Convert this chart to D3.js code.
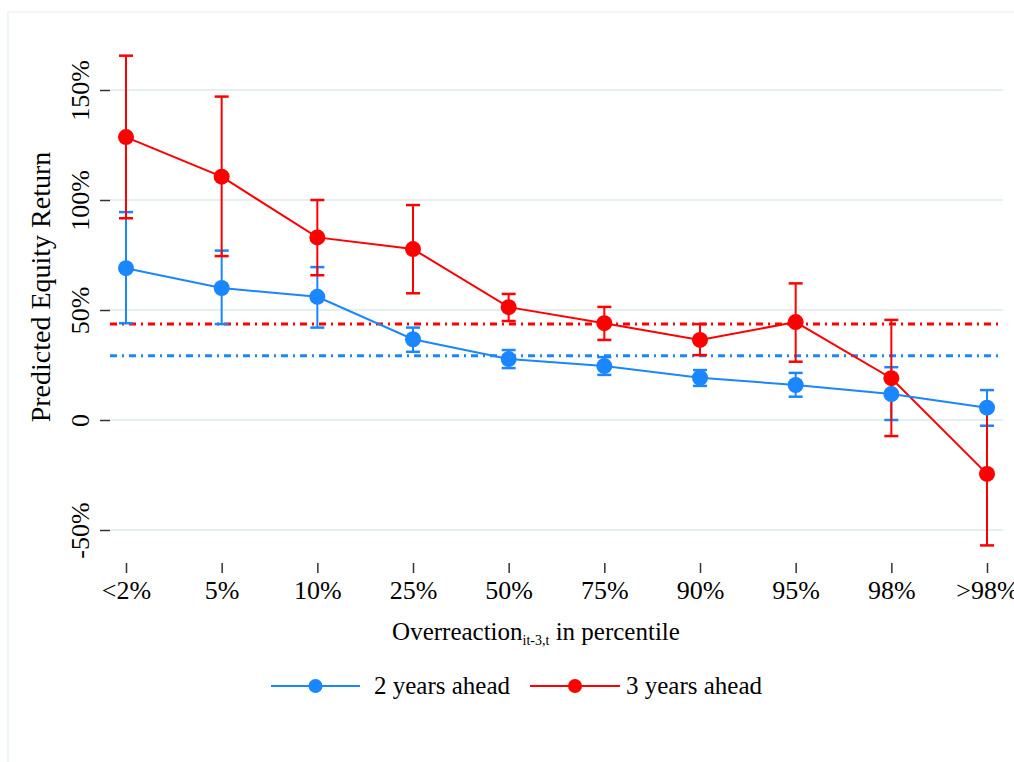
<!DOCTYPE html>
<html>
<head>
<meta charset="utf-8">
<script src="https://cdn.jsdelivr.net/npm/d3@7"></script>
<style>
  body { margin: 0; background: #fff; }
  text { font-family: 'Liberation Serif', 'Times New Roman', serif; fill: #000; }
</style>
</head>
<body>
<div id="chart"></div>
<script>
'use strict'

const categories = ['<2%', '5%', '10%', '25%', '50%', '75%', '90%', '95%', '98%', '>98%']
const yTicks = [-50, 0, 50, 100, 150]

// 2 years ahead
const twoYear = [69, 60, 56, 36.7, 27.7, 24.5, 19.2, 15.9, 11.8, 5.6]
const twoYearLow = [44, 43.6, 42, 31, 23.6, 20.5, 15.5, 10.6, 0, -2.6]
const twoYearHigh = [94.5, 77, 69.5, 42, 31.8, 28.6, 22.7, 21.4, 24, 13.6]
const twoYearMean = 29.2

// 3 years ahead
const threeYear = [128.6, 110.6, 83, 77.7, 51.3, 44, 36.4, 44.5, 19, -24.5]
const threeYearLow = [91.7, 74.5, 65.8, 57.6, 45, 36.4, 29.5, 26.5, -7.3, -57]
const threeYearHigh = [165.6, 147, 100, 97.7, 57.3, 51.4, 43.6, 62.1, 45.5, 5.5]
const threeYearMean = 43.6

const series = [
  { label: '2 years ahead', color: '#1a86ff', values: twoYear, low: twoYearLow, high: twoYearHigh, mean: twoYearMean },
  { label: '3 years ahead', color: '#ff0000', values: threeYear, low: threeYearLow, high: threeYearHigh, mean: threeYearMean }
]

const width = 1014
const height = 762
const svg = d3.select('#chart')
  .append('svg')
  .attr('width', width)
  .attr('height', height)

// outer frame
svg.append('rect')
  .attr('x', 8)
  .attr('y', 12)
  .attr('width', 1010)
  .attr('height', 760)
  .attr('fill', 'none')
  .attr('stroke', '#eef2f2')
  .attr('stroke-width', 1.5)

const x = d3.scalePoint().domain(categories).range([126, 987])
const y = d3.scaleLinear().domain([-50, 150]).range([530, 90])
const plotLeft = 110
const plotRight = 1003

// gridlines
svg.append('g')
  .selectAll('line')
  .data(yTicks)
  .enter()
  .append('line')
  .attr('x1', plotLeft)
  .attr('x2', plotRight)
  .attr('y1', d => y(d))
  .attr('y2', d => y(d))
  .attr('stroke', '#e6eeef')
  .attr('stroke-width', 2)

// y axis
const fmt = d => d === 0 ? '0' : d + '%'
const yAxis = svg.append('g')
  .attr('transform', `translate(${plotLeft},0)`)
  .call(d3.axisLeft(y).tickValues(yTicks).tickSize(10).tickPadding(0).tickFormat(fmt))
yAxis.select('.domain').remove()
yAxis.selectAll('.tick line').attr('stroke', '#333').attr('stroke-width', 1.5)
yAxis.selectAll('.tick text')
  .attr('font-size', 26)
  .attr('font-family', "'Liberation Serif', serif")
  .attr('text-anchor', 'middle')
  .attr('x', 0)
  .attr('dy', 0)
  .attr('transform', 'translate(-21,0) rotate(-90)')

// x axis
const xAxis = svg.append('g')
  .attr('transform', 'translate(0,563)')
  .call(d3.axisBottom(x).tickSize(10).tickPadding(0))
xAxis.select('.domain').remove()
xAxis.selectAll('.tick line').attr('stroke', '#333').attr('stroke-width', 1.5)
xAxis.selectAll('.tick text')
  .attr('font-size', 26)
  .attr('font-family', "'Liberation Serif', serif")
  .attr('y', 36)
  .attr('dy', 0)

// axis titles
svg.append('text')
  .attr('transform', `translate(50,${y(50) - 23}) rotate(-90)`)
  .attr('text-anchor', 'middle')
  .attr('font-size', 28)
  .text('Predicted Equity Return')

const xTitle = svg.append('text')
  .attr('x', 536)
  .attr('y', 640)
  .attr('text-anchor', 'middle')
  .attr('font-size', 25)
xTitle.append('tspan').text('Overreaction')
xTitle.append('tspan').attr('font-size', 14).attr('dy', 5).text('it-3,t')
xTitle.append('tspan').attr('dy', -5).text(' in percentile')

// reference (mean) lines
svg.append('g')
  .selectAll('line')
  .data(series)
  .enter()
  .append('line')
  .attr('x1', plotLeft)
  .attr('x2', plotRight)
  .attr('y1', d => y(d.mean))
  .attr('y2', d => y(d.mean))
  .attr('stroke', d => d.color)
  .attr('stroke-width', 3)
  .attr('stroke-dasharray', '7,5,2,5')

// series: error bars
const line = d3.line()
  .x((d, i) => x(categories[i]))
  .y(d => y(d))
const capHalf = 7

const groups = svg.selectAll('g.series')
  .data(series)
  .enter()
  .append('g')
  .attr('class', 'series')

groups.each(function (s) {
  const g = d3.select(this)
  const bars = categories.map((c, i) => ({ c, low: s.low[i], high: s.high[i] }))
  g.selectAll('line.ci')
    .data(bars)
    .enter()
    .append('line')
    .attr('class', 'ci')
    .attr('x1', d => x(d.c))
    .attr('x2', d => x(d.c))
    .attr('y1', d => y(d.low))
    .attr('y2', d => y(d.high))
    .attr('stroke', s.color)
    .attr('stroke-width', 2)
  g.selectAll('line.cap-low')
    .data(bars)
    .enter()
    .append('line')
    .attr('x1', d => x(d.c) - capHalf)
    .attr('x2', d => x(d.c) + capHalf)
    .attr('y1', d => y(d.low))
    .attr('y2', d => y(d.low))
    .attr('stroke', s.color)
    .attr('stroke-width', 2.5)
  g.selectAll('line.cap-high')
    .data(bars)
    .enter()
    .append('line')
    .attr('x1', d => x(d.c) - capHalf)
    .attr('x2', d => x(d.c) + capHalf)
    .attr('y1', d => y(d.high))
    .attr('y2', d => y(d.high))
    .attr('stroke', s.color)
    .attr('stroke-width', 2.5)
})

// series lines and markers (3 years first so 2 years sits on top)
const ordered = [series[1], series[0]]
ordered.forEach(s => {
  svg.append('path')
    .datum(s.values)
    .attr('d', line)
    .attr('fill', 'none')
    .attr('stroke', s.color)
    .attr('stroke-width', 2)
  svg.append('g')
    .selectAll('circle')
    .data(s.values)
    .enter()
    .append('circle')
    .attr('cx', (d, i) => x(categories[i]))
    .attr('cy', d => y(d))
    .attr('r', 8)
    .attr('fill', s.color)
})

// legend
const legendItems = [
  { s: series[0], x0: 271, x1: 360, tx: 374 },
  { s: series[1], x0: 530, x1: 620, tx: 626 }
]
const legendY = 686
const legend = svg.append('g')
legend.selectAll('line')
  .data(legendItems)
  .enter()
  .append('line')
  .attr('x1', d => d.x0)
  .attr('x2', d => d.x1)
  .attr('y1', legendY)
  .attr('y2', legendY)
  .attr('stroke', d => d.s.color)
  .attr('stroke-width', 2)
legend.selectAll('circle')
  .data(legendItems)
  .enter()
  .append('circle')
  .attr('cx', d => (d.x0 + d.x1) / 2)
  .attr('cy', legendY)
  .attr('r', 7)
  .attr('fill', d => d.s.color)
legend.selectAll('text')
  .data(legendItems)
  .enter()
  .append('text')
  .attr('x', d => d.tx)
  .attr('y', legendY + 8)
  .attr('font-size', 25)
  .text(d => d.s.label)
</script>
</body>
</html>
